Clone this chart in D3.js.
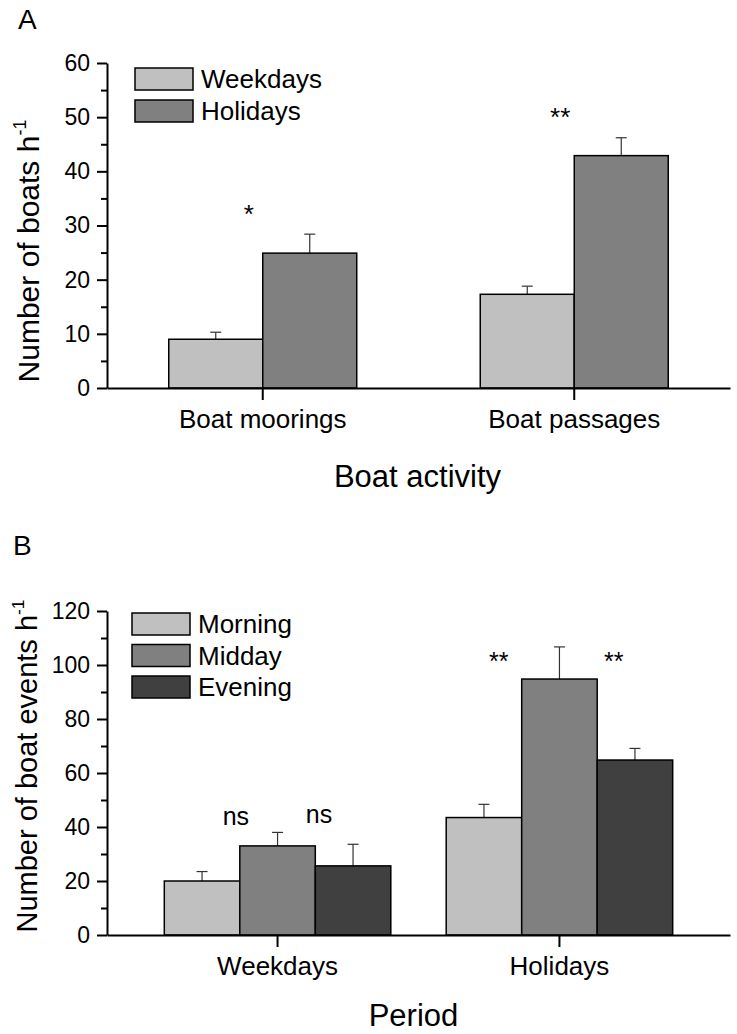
<!DOCTYPE html>
<html><head><meta charset="utf-8">
<script src="https://cdn.jsdelivr.net/npm/d3@7"></script>
<style>
body{margin:0;background:#fff}
svg{display:block}
text{font-family:"Liberation Sans",Arial,sans-serif;fill:#000}
</style>
</head><body>
<svg id="chart" width="737" height="1034"></svg>
<script>
// ---------- Panel A data ----------
const catsA = ["Boat moorings", "Boat passages"];
const seriesA = ["Weekdays", "Holidays"];
const weekdaysA = [9.0, 17.3];
const holidaysA = [24.9, 42.9];
const weekdaysErrA = [1.3, 1.5];
const holidaysErrA = [3.5, 3.3];
const ticksA = [0, 10, 20, 30, 40, 50, 60];
const annotTextA = ["*", "**"];
const annotCatA = ["Boat moorings", "Boat passages"];
const annotValA = [30.5, 48.4];

// ---------- Panel B data ----------
const catsB = ["Weekdays", "Holidays"];
const seriesB = ["Morning", "Midday", "Evening"];
const morningB = [20.0, 43.5];
const middayB = [33.0, 94.8];
const eveningB = [25.6, 64.8];
const morningErrB = [3.5, 4.9];
const middayErrB = [5.0, 11.9];
const eveningErrB = [8.0, 4.3];
const ticksB = [0, 20, 40, 60, 80, 100, 120];
const annotTextB = ["ns", "ns", "**", "**"];
const annotCatB = ["Weekdays", "Weekdays", "Holidays", "Holidays"];
const annotValB = [40.9, 41.3, 98.2, 98.2];

const svg = d3.select("#chart");
const FONT = '"Liberation Sans", Arial, sans-serif';

function panel(cfg) {
  const g = svg.append("g");
  const y = d3.scaleLinear().domain([0, cfg.ticks[cfg.ticks.length - 1]]).range([cfg.bottom, cfg.top]);
  const x0 = d3.scaleBand().domain(cfg.cats).range([cfg.left, cfg.right])
    .paddingInner(0).paddingOuter(cfg.outer);
  const x1 = d3.scaleBand().domain(cfg.series).range([0, x0.bandwidth()])
    .paddingInner(0).paddingOuter(cfg.innerOuter);

  // bars with upper error bars
  cfg.series.forEach((s, si) => {
    cfg.cats.forEach((c, ci) => {
      const v = cfg.values[si][ci], e = cfg.errors[si][ci];
      const bx = x0(c) + x1(s), bw = x1.bandwidth();
      const cx = bx + bw / 2;
      g.append("line").attr("x1", cx).attr("x2", cx).attr("y1", y(v)).attr("y2", y(v + e))
        .attr("stroke", "#333").attr("stroke-width", 1.2);
      g.append("line").attr("x1", cx - 5.5).attr("x2", cx + 5.5).attr("y1", y(v + e)).attr("y2", y(v + e))
        .attr("stroke", "#333").attr("stroke-width", 1.2);
      g.append("rect").attr("x", bx).attr("y", y(v)).attr("width", bw).attr("height", y(0) - y(v))
        .attr("fill", cfg.colors[si]).attr("stroke", "#000").attr("stroke-width", 1.5);
    });
  });

  // y axis minor ticks
  const yMax = cfg.ticks[cfg.ticks.length - 1];
  const minor = d3.range(cfg.minorStep, yMax, cfg.minorStep).filter(v => !cfg.ticks.includes(v));
  const yMinor = g.append("g").attr("transform", `translate(${cfg.left},0)`)
    .call(d3.axisLeft(y).tickValues(minor).tickSize(6).tickSizeOuter(0).tickFormat(""));
  yMinor.select(".domain").remove();
  yMinor.selectAll("line").attr("stroke", "#000").attr("stroke-width", 2);

  const yAxis = g.append("g").attr("transform", `translate(${cfg.left},0)`)
    .call(d3.axisLeft(y).tickValues(cfg.ticks).tickSize(10).tickSizeOuter(0).tickPadding(7));
  yAxis.selectAll("line").attr("stroke", "#000").attr("stroke-width", 2);
  yAxis.select(".domain").attr("stroke", "#000").attr("stroke-width", 2);
  yAxis.selectAll("text").attr("font-family", FONT).attr("font-size", cfg.tickFont).attr("fill", "#000");

  // x axis
  const xAxis = g.append("g").attr("transform", `translate(0,${y(0)})`)
    .call(d3.axisBottom(x0).tickSize(12).tickSizeOuter(0).tickPadding(10));
  xAxis.select(".domain").attr("stroke", "#000").attr("stroke-width", 2.2);
  xAxis.selectAll("line").attr("stroke", "#000").attr("stroke-width", 2);
  xAxis.selectAll("text").attr("font-family", FONT).attr("font-size", cfg.catFont).attr("fill", "#000");

  // significance annotations
  cfg.annotText.forEach((t, i) => {
    g.append("text").attr("x", x0(cfg.annotCat[i]) + x0.bandwidth() * cfg.annotFrac[i])
      .attr("y", y(cfg.annotVal[i])).attr("text-anchor", "middle")
      .attr("font-size", cfg.annotFont).text(t);
  });

  // legend
  cfg.series.forEach((s, si) => {
    const ly = cfg.legendTop + si * cfg.legendGap;
    g.append("rect").attr("x", cfg.legendX).attr("y", ly).attr("width", 58).attr("height", 22)
      .attr("fill", cfg.colors[si]).attr("stroke", "#000").attr("stroke-width", 1.5);
    g.append("text").attr("x", cfg.legendX + 66).attr("y", ly + 11).attr("dy", "0.36em")
      .attr("font-size", cfg.legendFont).text(s);
  });

  // axis titles
  g.append("text").attr("x", (cfg.left + cfg.right) / 2 + cfg.xTitleShift).attr("y", cfg.xTitleY)
    .attr("text-anchor", "middle").attr("font-size", cfg.titleFont).text(cfg.xTitle);
  const yt = g.append("text").attr("transform", `translate(${cfg.yTitleX},${cfg.yTitleCY}) rotate(-90)`)
    .attr("text-anchor", "middle").attr("font-size", cfg.yTitleFont);
  yt.append("tspan").text(cfg.yTitle);
  yt.append("tspan").attr("font-size", cfg.yTitleFont * 0.6).attr("dy", -cfg.yTitleFont * 0.45).text("-1");

  // panel letter
  g.append("text").attr("x", cfg.letterX).attr("y", cfg.letterY).attr("font-size", 28).text(cfg.letter);
}

panel({
  cats: catsA, series: seriesA,
  values: [weekdaysA, holidaysA], errors: [weekdaysErrA, holidaysErrA],
  colors: ["#c0c0c0", "#808080"],
  ticks: ticksA, minorStep: 5,
  top: 63, bottom: 388, left: 107, right: 730,
  outer: 0, innerOuter: 0.657,
  annotText: annotTextA, annotCat: annotCatA, annotVal: annotValA, annotFrac: [0.455, 0.455],
  legendX: 135, legendTop: 68, legendGap: 32,
  tickFont: 23, catFont: 26, legendFont: 26, annotFont: 26, titleFont: 31, yTitleFont: 30,
  xTitle: "Boat activity", xTitleY: 487, xTitleShift: -1,
  yTitle: "Number of boats h", yTitleX: 39, yTitleCY: 251,
  letter: "A", letterX: 18, letterY: 29
});

panel({
  cats: catsB, series: seriesB,
  values: [morningB, middayB, eveningB], errors: [morningErrB, middayErrB, eveningErrB],
  colors: ["#c0c0c0", "#808080", "#404040"],
  ticks: ticksB, minorStep: 10,
  top: 611, bottom: 935, left: 107, right: 730,
  outer: 0.105, innerOuter: 0.367,
  annotText: annotTextB, annotCat: annotCatB, annotVal: annotValB, annotFrac: [0.352, 0.647, 0.285, 0.693],
  legendX: 132, legendTop: 613, legendGap: 31.5,
  tickFont: 23, catFont: 26, legendFont: 26, annotFont: 25, titleFont: 31, yTitleFont: 29,
  xTitle: "Period", xTitleY: 1026, xTitleShift: -5,
  yTitle: "Number of boat events h", yTitleX: 37, yTitleCY: 766,
  letter: "B", letterX: 13, letterY: 555
});
</script>
</body></html>
